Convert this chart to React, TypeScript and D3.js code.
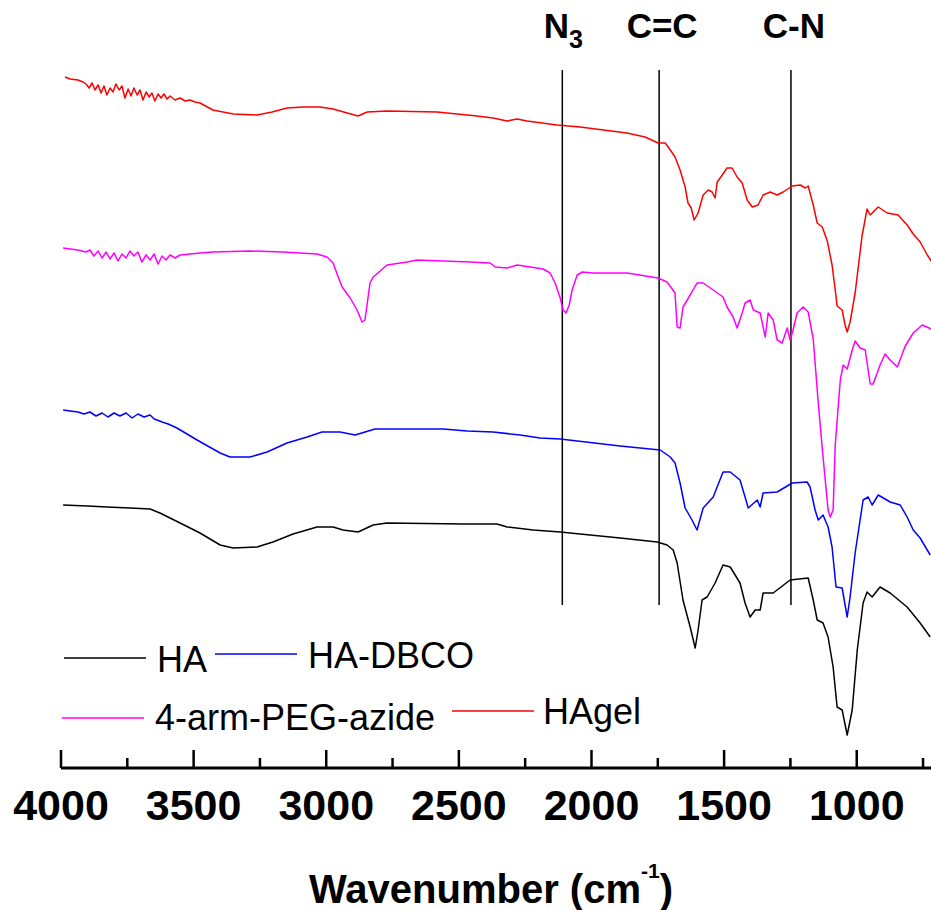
import React from "react";
import * as d3 from "d3";

// FTIR spectra, transmittance in arbitrary units (offset per sample)
const haData: [number, number][] = [
  [3992, 263], [3900, 262], [3827, 261], [3740, 260], [3664, 259], [3627, 255], [3551, 245],
  [3476, 235], [3400, 223], [3351, 220], [3261, 221], [3201, 226], [3125, 234], [3035, 241],
  [2974, 241], [2937, 238], [2880, 236], [2823, 243], [2771, 245], [2484, 244], [2356, 244],
  [2318, 241], [2220, 238], [2118, 236], [1892, 230], [1752, 226], [1715, 223], [1692, 218],
  [1677, 205], [1655, 168], [1628, 141], [1609, 120], [1598, 138], [1583, 168], [1564, 171],
  [1534, 185], [1504, 203], [1477, 201], [1440, 185], [1421, 165], [1402, 151], [1383, 158],
  [1364, 158], [1353, 175], [1315, 175], [1251, 188], [1183, 190], [1164, 168], [1149, 148],
  [1127, 145], [1108, 131], [1089, 101], [1074, 61], [1055, 58], [1036, 33], [1017, 58],
  [998, 118], [976, 165], [961, 176], [942, 171], [912, 181], [874, 175], [810, 161],
  [761, 145], [723, 131],
];

const haDbcoData: [number, number][] = [
  [3992, 358], [3966, 357], [3936, 356], [3913, 354], [3891, 356], [3868, 352], [3845, 355],
  [3823, 351], [3800, 355], [3778, 352], [3755, 355], [3732, 350], [3710, 354], [3687, 351],
  [3664, 353], [3649, 349], [3638, 348], [3619, 346], [3596, 344], [3563, 340], [3487, 328],
  [3400, 315], [3363, 311], [3287, 311], [3223, 316], [3148, 325], [3072, 331], [3016, 336],
  [2948, 336], [2891, 333], [2816, 339], [2559, 339], [2469, 337], [2371, 336], [2269, 333],
  [2194, 330], [2118, 329], [1892, 322], [1741, 318], [1703, 311], [1685, 305], [1666, 285],
  [1647, 260], [1621, 248], [1602, 238], [1579, 260], [1541, 271], [1504, 296], [1477, 296],
  [1440, 288], [1421, 271], [1409, 260], [1375, 268], [1364, 261], [1353, 275], [1300, 276],
  [1243, 285], [1187, 286], [1176, 281], [1157, 258], [1145, 248], [1127, 253], [1108, 241],
  [1093, 221], [1078, 181], [1055, 180], [1036, 151], [1025, 171], [1006, 215], [976, 268],
  [957, 271], [942, 263], [919, 273], [874, 266], [836, 263], [810, 251], [787, 238],
  [761, 230], [723, 213],
];

const pegAzideData: [number, number][] = [
  [3992, 520], [3966, 519], [3936, 518], [3906, 516], [3891, 518], [3876, 512], [3860, 517],
  [3845, 510], [3830, 516], [3815, 509], [3800, 515], [3785, 507], [3770, 514], [3755, 510],
  [3740, 517], [3725, 512], [3710, 516], [3695, 506], [3679, 513], [3664, 508], [3649, 514],
  [3634, 504], [3619, 512], [3604, 508], [3589, 513], [3570, 510], [3551, 513], [3514, 514],
  [3476, 515], [3427, 516], [3287, 517], [3163, 516], [3035, 514], [2997, 511], [2974, 505],
  [2955, 491], [2940, 481], [2910, 470], [2884, 458], [2865, 446], [2854, 448], [2835, 485],
  [2823, 491], [2771, 503], [2695, 506], [2658, 508], [2458, 506], [2382, 505], [2363, 501],
  [2318, 500], [2280, 503], [2231, 501], [2182, 499], [2156, 495], [2137, 485], [2118, 470],
  [2107, 458], [2096, 455], [2084, 463], [2073, 478], [2054, 493], [2035, 496], [1994, 495],
  [1866, 495], [1749, 490], [1715, 486], [1685, 475], [1677, 441], [1666, 440], [1655, 461],
  [1639, 468], [1602, 485], [1579, 485], [1541, 478], [1504, 471], [1489, 461], [1466, 451],
  [1451, 440], [1432, 455], [1421, 465], [1402, 468], [1390, 458], [1364, 455], [1345, 431],
  [1334, 455], [1315, 448], [1300, 428], [1281, 425], [1262, 440], [1251, 428], [1240, 438],
  [1225, 455], [1202, 461], [1183, 456], [1164, 429], [1145, 365], [1127, 311], [1108, 258],
  [1100, 251], [1089, 258], [1081, 323], [1062, 388], [1051, 403], [1036, 399], [1017, 418],
  [1006, 427], [987, 420], [968, 418], [949, 384], [938, 384], [912, 403], [893, 414],
  [874, 408], [847, 401], [817, 422], [787, 435], [753, 443], [719, 439],
];

const hagelData: [number, number][] = [
  [3985, 691], [3966, 689], [3936, 688], [3917, 686], [3906, 684], [3894, 680], [3883, 685],
  [3872, 678], [3860, 683], [3849, 675], [3838, 682], [3827, 673], [3815, 680], [3804, 676],
  [3793, 684], [3781, 678], [3770, 682], [3759, 670], [3747, 679], [3736, 672], [3725, 680],
  [3713, 673], [3702, 678], [3691, 668], [3679, 676], [3668, 671], [3657, 675], [3646, 667],
  [3634, 674], [3623, 670], [3612, 674], [3600, 669], [3589, 672], [3570, 668], [3551, 670],
  [3532, 667], [3514, 668], [3495, 666], [3476, 665], [3427, 658], [3351, 654], [3261, 653],
  [3204, 656], [3148, 660], [3087, 661], [3023, 661], [2974, 659], [2921, 655], [2880, 652],
  [2846, 656], [2771, 657], [2582, 656], [2431, 652], [2371, 650], [2318, 647], [2280, 649],
  [2243, 647], [2130, 643], [2043, 641], [1866, 635], [1798, 631], [1749, 625], [1722, 625],
  [1703, 618], [1685, 611], [1666, 598], [1647, 581], [1636, 565], [1624, 560], [1613, 548],
  [1598, 555], [1579, 573], [1560, 578], [1545, 576], [1534, 570], [1526, 586], [1507, 593],
  [1489, 600], [1470, 600], [1451, 591], [1432, 585], [1413, 568], [1394, 561], [1372, 563],
  [1353, 573], [1326, 576], [1300, 573], [1277, 576], [1243, 582], [1213, 583], [1194, 580],
  [1183, 582], [1164, 563], [1149, 545], [1130, 541], [1111, 527], [1093, 503], [1081, 478],
  [1074, 462], [1055, 458], [1044, 443], [1036, 436], [1025, 446], [1006, 475], [980, 532],
  [961, 559], [949, 553], [919, 561], [885, 555], [844, 553], [810, 543], [787, 534],
  [761, 526], [734, 513], [719, 507],
];

const series = [
  { name: "HA", color: "#000000", data: haData },
  { name: "HA-DBCO", color: "#0000ff", data: haDbcoData },
  { name: "4-arm-PEG-azide", color: "#ff00ff", data: pegAzideData },
  { name: "HAgel", color: "#ff0000", data: hagelData },
];

const majorTicks = [4000, 3500, 3000, 2500, 2000, 1500, 1000];
const minorTicks = [3750, 3250, 2750, 2250, 1750, 1250, 750];

// assignment lines: N3, C=C, C-N
const markers = [
  { wn: 2110, label: "N", sub: "3" },
  { wn: 1745, label: "C=C", sub: "" },
  { wn: 1248, label: "C-N", sub: "" },
];

const FONT = "'Liberation Sans', Arial, Helvetica, sans-serif";

export default function App() {
  const width = 931;
  const height = 910;
  const axisY = 768;

  const x = d3.scaleLinear().domain([4000, 720]).range([61, 931]);
  const y = d3.scaleLinear().domain([0, 700]).range([axisY, 68]);

  const line = d3
    .line<[number, number]>()
    .x((d) => x(d[0]))
    .y((d) => y(d[1]));

  // legend layout: two rows, two entries each
  const legend = [
    { s: series[0], lx: 64, ly: 658, tx: 157, ty: 672 },
    { s: series[1], lx: 215, ly: 654, tx: 308, ty: 668 },
    { s: series[2], lx: 62, ly: 718, tx: 155, ty: 730 },
    { s: series[3], lx: 452, ly: 711, tx: 543, ty: 724 },
  ];

  return (
    <svg
      width={width}
      height={height}
      style={{ position: "absolute", left: 0, top: 0, background: "#fff" }}
      fontFamily={FONT}
    >
      <rect width={width} height={height} fill="#fff" />

      {/* assignment lines */}
      {markers.map((m) => (
        <g key={m.label}>
          <line x1={x(m.wn)} x2={x(m.wn)} y1={70} y2={605} stroke="#000" strokeWidth={1.5} />
          <text
            x={x(m.wn) + (m.sub ? 1 : 3)}
            y={38}
            textAnchor="middle"
            fontSize={35}
            fontWeight="bold"
          >
            {m.label}
            {m.sub && (
              <tspan fontSize={25} dy={10}>
                {m.sub}
              </tspan>
            )}
          </text>
        </g>
      ))}

      {/* spectra */}
      {series.map((s) => (
        <path
          key={s.name}
          d={line(s.data) || ""}
          fill="none"
          stroke={s.color}
          strokeWidth={1.5}
          strokeLinejoin="round"
        />
      ))}

      {/* legend */}
      {legend.map((l) => (
        <g key={l.s.name}>
          <line x1={l.lx} x2={l.lx + 82} y1={l.ly} y2={l.ly} stroke={l.s.color} strokeWidth={1.5} />
          <text x={l.tx} y={l.ty} fontSize={36}>
            {l.s.name}
          </text>
        </g>
      ))}

      {/* x axis */}
      <line x1={x(4000)} x2={width} y1={axisY} y2={axisY} stroke="#000" strokeWidth={3} />
      {majorTicks.map((t) => (
        <g key={t}>
          <line x1={x(t)} x2={x(t)} y1={axisY} y2={axisY - 18} stroke="#000" strokeWidth={2.5} />
          <text x={x(t)} y={820} textAnchor="middle" fontSize={43} fontWeight="bold">
            {t}
          </text>
        </g>
      ))}
      {minorTicks.map((t) => (
        <line key={t} x1={x(t)} x2={x(t)} y1={axisY} y2={axisY - 10} stroke="#000" strokeWidth={2.5} />
      ))}

      <text x={491} y={903} textAnchor="middle" fontSize={40} fontWeight="bold">
        Wavenumber (cm
        <tspan fontSize={21} dy={-25}>
          -1
        </tspan>
        <tspan dy={25}>)</tspan>
      </text>
    </svg>
  );
}
